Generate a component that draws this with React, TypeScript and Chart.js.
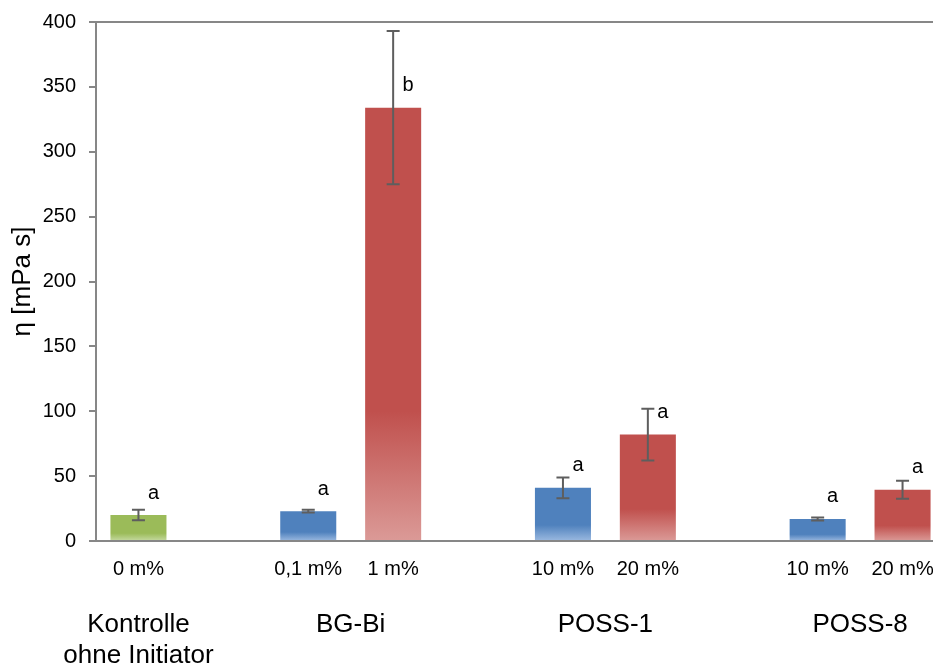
import React, { useEffect, useRef } from "react";
import { Chart, registerables } from "chart.js";

Chart.register(...registerables);

// ---- data ----
const categories = ["0 m%", "", "0,1 m%", "1 m%", "", "10 m%", "20 m%", "", "10 m%", "20 m%"];
const values: (number | null)[] = [20, null, 23, 334, null, 41, 82, null, 17, 39.5];
const errors: (number | null)[] = [4, null, 1, 59, null, 8, 20, null, 1.2, 7];
const letters = ["a", "", "a", "b", "", "a", "a", "", "a", "a"];
const barKinds: (string | null)[] = ["control", null, "low", "high", null, "low", "high", null, "low", "high"];
const groupLabels = [["Kontrolle", "ohne Initiator"], ["BG-Bi"], ["POSS-1"], ["POSS-8"]];
const groupFirst = [0, 2, 5, 8];
const groupLast = [0, 3, 6, 9];
const yMin = 0;
const yMax = 400;
const yStep = 50;
const yTitle = "η [mPa s]";

const FONT = "'Liberation Sans', Arial, sans-serif";
const AXIS = "#878787";
const palette: Record<string, [string, string]> = {
  control: ["#9BBB59", "#C6DAA2"],
  low: ["#4F81BD", "#9BB9E0"],
  high: ["#C0504D", "#DB9A97"],
};

const overlayPlugin = {
  id: "overlay",
  afterDatasetsDraw(chart: any) {
    const { ctx, scales } = chart;
    const xs = scales.x;
    const ys = scales.y;
    ctx.save();
    values.forEach((v, i) => {
      if (v == null) return;
      const x = xs.getPixelForValue(i);
      const e = errors[i] ?? 0;
      const yTop = ys.getPixelForValue(v + e);
      const yBot = ys.getPixelForValue(v - e);
      ctx.strokeStyle = "#5E5E5E";
      ctx.lineWidth = 2;
      ctx.beginPath();
      ctx.moveTo(x, yTop);
      ctx.lineTo(x, yBot);
      ctx.moveTo(x - 6.5, yTop);
      ctx.lineTo(x + 6.5, yTop);
      ctx.moveTo(x - 6.5, yBot);
      ctx.lineTo(x + 6.5, yBot);
      ctx.stroke();
      // significance letter
      const barTop = ys.getPixelForValue(v);
      ctx.fillStyle = "#000";
      ctx.font = `20px ${FONT}`;
      ctx.textAlign = "center";
      ctx.textBaseline = "alphabetic";
      ctx.fillText(letters[i], x + 15, barTop - 16.5);
    });
    // group labels
    const bottom = chart.chartArea.bottom;
    ctx.font = `26px ${FONT}`;
    ctx.fillStyle = "#000";
    ctx.textAlign = "center";
    ctx.textBaseline = "alphabetic";
    groupLabels.forEach((lines, g) => {
      const cx = (xs.getPixelForValue(groupFirst[g]) + xs.getPixelForValue(groupLast[g])) / 2;
      lines.forEach((t, k) => {
        ctx.fillText(t, cx, bottom + 91 + k * 31);
      });
    });
    ctx.restore();
  },
};

export default function App() {
  const ref = useRef<HTMLCanvasElement | null>(null);
  useEffect(() => {
    if (!ref.current) return;
    const chart = new Chart(ref.current, {
      type: "bar",
      data: {
        labels: categories,
        datasets: [
          {
            data: values as any,
            backgroundColor: (c: any) => {
              const i = c.dataIndex;
              if (i == null) return "transparent";
              const kind = barKinds[i];
              if (!kind) return "transparent";
              const [topC, botC] = palette[kind];
              const ch = c.chart;
              const ys = ch.scales && ch.scales.y;
              const v = values[i];
              if (!ys || !ch.chartArea || v == null) return topC;
              const yT = ys.getPixelForValue(v);
              const yB = ys.getPixelForValue(0);
              if (!isFinite(yT) || !isFinite(yB) || yB - yT < 1) return topC;
              const g = ch.ctx.createLinearGradient(0, yT, 0, yB);
              g.addColorStop(0, topC);
              g.addColorStop(0.7, topC);
              g.addColorStop(1, botC);
              return g;
            },
            borderWidth: 0,
            barPercentage: 0.66,
            categoryPercentage: 1,
          },
        ],
      },
      options: {
        animation: false,
        responsive: false,
        maintainAspectRatio: false,
        layout: { padding: { top: 22, right: 0, bottom: 0, left: 0 } },
        plugins: {
          legend: { display: false },
          tooltip: { enabled: false },
          title: { display: false },
        },
        scales: {
          x: {
            type: "category",
            grid: { display: false, drawTicks: false },
            border: { display: true, color: AXIS, width: 2 },
            ticks: {
              color: "#000",
              font: { size: 20, family: FONT },
              padding: 16,
              maxRotation: 0,
              autoSkip: false,
            },
            afterFit: (s: any) => {
              s.height = 125;
              s.paddingLeft = 0;
              s.paddingRight = 0;
            },
          },
          y: {
            min: yMin,
            max: yMax,
            ticks: {
              stepSize: yStep,
              color: "#000",
              font: { size: 20, family: FONT },
              padding: 13,
            },
            grid: {
              drawOnChartArea: true,
              color: (c: any) => (c.tick && c.tick.value === yMax ? AXIS : "rgba(0,0,0,0)"),
              lineWidth: 2,
              tickLength: 7,
              tickColor: AXIS,
              tickWidth: 2,
            },
            border: { display: true, color: AXIS, width: 2 },
            title: {
              display: true,
              text: yTitle,
              color: "#000",
              font: { size: 26, family: FONT },
              padding: { top: 7, bottom: 0 },
            },
            afterFit: (s: any) => {
              s.width = 96;
              s.paddingTop = 0;
              s.paddingBottom = 0;
            },
          },
        },
      },
      plugins: [overlayPlugin],
    });
    return () => chart.destroy();
  }, []);
  return (
    <div
      style={{
        position: "absolute",
        left: 0,
        top: 0,
        width: 933,
        height: 666,
        overflow: "hidden",
        background: "#fff",
      }}
    >
      <canvas ref={ref} width={945} height={666} style={{ display: "block", width: 945, height: 666 }} />
    </div>
  );
}
